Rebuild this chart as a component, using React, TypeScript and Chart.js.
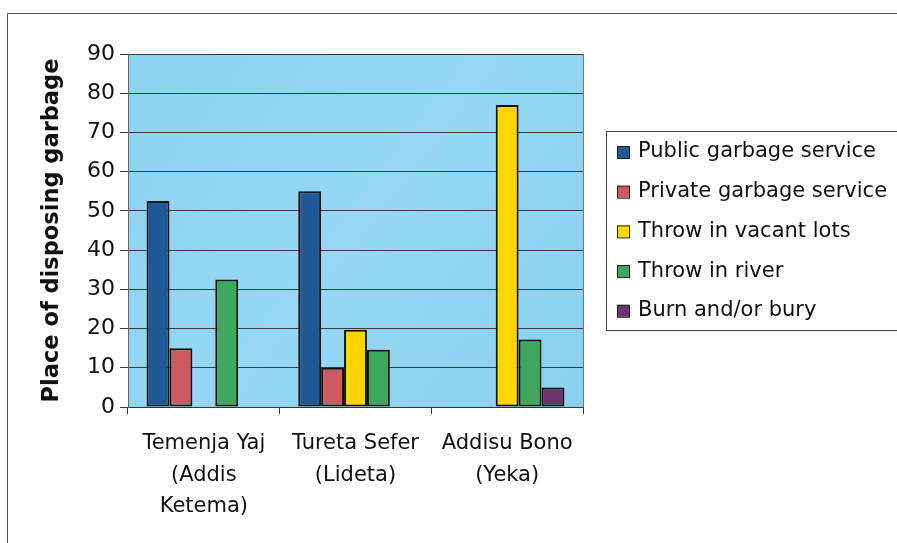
import React, { useEffect, useRef } from "react";
import { Chart, registerables } from "chart.js";

Chart.register(...registerables);

const categories: string[][] = [
  ["Temenja Yaj", "(Addis", "Ketema)"],
  ["Tureta Sefer", "(Lideta)"],
  ["Addisu Bono", "(Yeka)"],
];

const seriesNames = [
  "Public garbage service",
  "Private garbage service",
  "Throw in vacant lots",
  "Throw in river",
  "Burn and/or bury",
];

const publicService = [52.5, 55, null];
const privateService = [15, 10, null];
const vacantLots = [null, 19.7, 77];
const river = [32.5, 14.6, 17.2];
const burnBury = [null, null, 5];

const seriesColors = ["#1f5a98", "#cc5a5e", "#ffd400", "#3fa85c", "#6c3570"];

const yTicksMax = 90;
const yTickStep = 10;
const yTitle = "Place of disposing garbage";

const FONT = "'DejaVu Sans', sans-serif";

const decorPlugin = {
  id: "decor",
  beforeDraw(chart: any) {
    const { ctx, chartArea } = chart;
    ctx.save();
    ctx.fillStyle = "#ffffff";
    ctx.fillRect(0, 0, chart.width, chart.height);
    ctx.strokeStyle = "#555";
    ctx.lineWidth = 1;
    ctx.strokeRect(7.5, 13.5, 1200, 1200);
    const g = ctx.createLinearGradient(chartArea.left, chartArea.top, chartArea.right, chartArea.bottom);
    g.addColorStop(0, "#8bd2f2");
    g.addColorStop(0.5, "#96d8f4");
    g.addColorStop(1, "#8ad0f0");
    ctx.fillStyle = g;
    ctx.fillRect(chartArea.left, chartArea.top, chartArea.right - chartArea.left, chartArea.bottom - chartArea.top);
    ctx.restore();
  },
  afterDatasetsDraw(chart: any) {
    const { ctx, chartArea } = chart;
    ctx.save();
    ctx.strokeStyle = "#777";
    ctx.lineWidth = 1;
    ctx.beginPath();
    ctx.moveTo(Math.round(chartArea.right) + 0.5, chartArea.top);
    ctx.lineTo(Math.round(chartArea.right) + 0.5, chartArea.bottom);
    ctx.stroke();
    ctx.restore();
  },
  afterDraw(chart: any) {
    const { ctx } = chart;
    ctx.save();
    ctx.strokeStyle = "#444";
    ctx.lineWidth = 1;
    ctx.strokeRect(606.5, 131.5, 400, 199);
    ctx.font = `21px ${FONT}`;
    ctx.textBaseline = "middle";
    chart.data.datasets.forEach((ds: any, i: number) => {
      const cy = 152 + i * 39.7;
      ctx.fillStyle = ds.backgroundColor;
      ctx.fillRect(617, cy - 6, 12, 12);
      ctx.strokeStyle = "#222";
      ctx.strokeRect(617.5, cy - 5.5, 12, 12);
      ctx.fillStyle = "#111";
      ctx.fillText(ds.label, 638, cy);
    });
    ctx.restore();
  },
};

export default function App() {
  const ref = useRef<HTMLCanvasElement>(null);

  useEffect(() => {
    if (!ref.current) return;
    const values = [publicService, privateService, vacantLots, river, burnBury];
    const chart = new Chart(ref.current, {
      type: "bar",
      data: {
        labels: categories,
        datasets: seriesNames.map((name, i) => ({
          label: name,
          data: values[i],
          backgroundColor: seriesColors[i],
          borderColor: "#111",
          borderWidth: 2,
          borderSkipped: false,
          categoryPercentage: 0.755,
          barPercentage: 1.0,
        })),
      },
      options: {
        responsive: false,
        animation: false,
        layout: { padding: { top: 54, right: 314, bottom: 0, left: 36 } },
        plugins: {
          legend: { display: false },
          tooltip: { enabled: false },
        },
        scales: {
          x: {
            afterFit: (s: any) => {
              s.height = 136;
            },
            grid: {
              offset: true,
              drawOnChartArea: false,
              drawTicks: true,
              tickLength: 7,
              color: "#333",
            },
            border: { display: true, color: "#333", width: 1 },
            ticks: {
              color: "#111",
              font: { family: FONT, size: 21, lineHeight: 1.5 },
              padding: 14,
              maxRotation: 0,
              autoSkip: false,
            },
          },
          y: {
            min: 0,
            max: yTicksMax,
            afterFit: (s: any) => {
              s.width = 92;
            },
            grid: {
              color: "#3a3a3a",
              lineWidth: 1,
              drawTicks: true,
              tickLength: 8,
            },
            border: { display: true, color: "#666", width: 1 },
            ticks: {
              stepSize: yTickStep,
              color: "#111",
              font: { family: FONT, size: 22 },
              padding: 5,
            },
            title: {
              display: true,
              text: yTitle,
              color: "#111",
              font: { family: FONT, size: 22.5, weight: "bold" },
              padding: { top: 3, bottom: 0 },
            },
          },
        },
      },
      plugins: [decorPlugin],
    });
    return () => chart.destroy();
  }, []);

  return (
    <div style={{ position: "fixed", left: 0, top: 0, width: 897, height: 543, background: "#fff", overflow: "hidden" }}>
      <canvas ref={ref} width={897} height={543} style={{ display: "block" }} />
    </div>
  );
}
